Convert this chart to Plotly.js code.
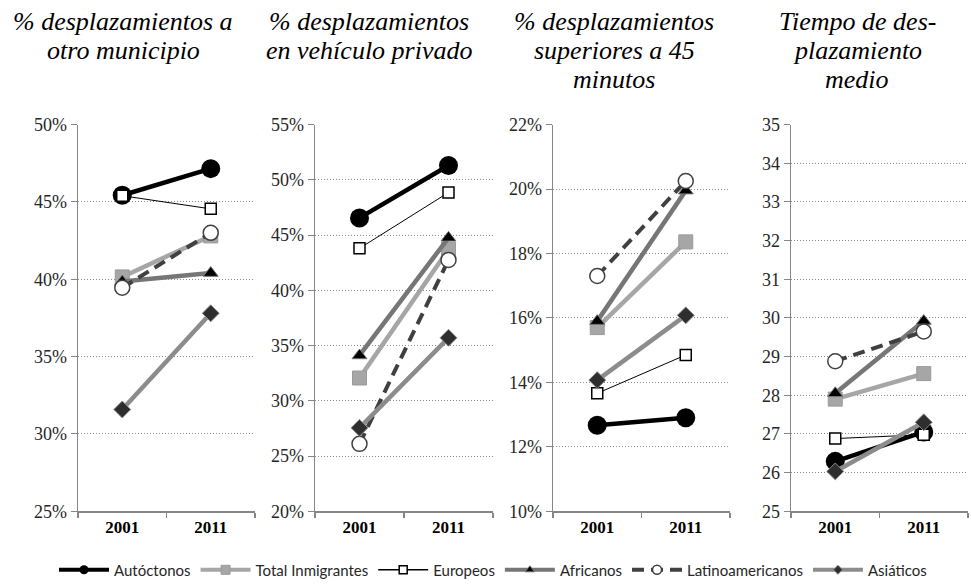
<!DOCTYPE html>
<html>
<head>
<meta charset="utf-8">
<script src="https://cdn.plot.ly/plotly-3.0.1.min.js"></script>
<style>
  html, body { margin: 0; padding: 0; background: #fff; }
  #chart { width: 971px; height: 587px; }
</style>
</head>
<body>
<div id="chart"></div>
<script>
// Categories
const years = ['2001', '2011'];

// Panel titles (one array of lines per panel)
const panelTitles = [
  ['% desplazamientos a', 'otro municipio'],
  ['% desplazamientos', 'en vehículo privado'],
  ['% desplazamientos', 'superiores a 45', 'minutos'],
  ['Tiempo de des-', 'plazamiento', 'medio']
];

// Series names
const seriesNames = ['Autóctonos', 'Total Inmigrantes', 'Europeos', 'Africanos', 'Latinoamericanos', 'Asiáticos'];

// Values per series, one [2001, 2011] pair per panel
const autoctonos       = [[45.43, 47.15], [46.55, 51.3],  [12.67, 12.9],  [26.29, 27.05]];
const totalInmigrantes = [[40.15, 42.8],  [32.06, 43.7],  [15.7, 18.36],  [27.9, 28.56]];
const europeos         = [[45.4, 44.55],  [43.8, 48.85],  [13.66, 14.85], [26.88, 26.98]];
const africanos        = [[39.85, 40.4],  [34.1, 44.75],  [15.9, 19.95],  [28.05, 29.92]];
const latinoamericanos = [[39.45, 43.0],  [26.1, 42.75],  [17.3, 20.25],  [28.88, 29.65]];
const asiaticos        = [[31.58, 37.8],  [27.55, 35.7],  [14.07, 16.08], [26.03, 27.3]];

// Y axis ranges / steps / suffixes per panel
const yRanges   = [[25, 50], [20, 55], [10, 22], [25, 35]];
const yDticks   = [5, 5, 2, 1];
const ySuffixes = ['%', '%', '%', ''];

const allSeries = [autoctonos, totalInmigrantes, europeos, africanos, latinoamericanos, asiaticos];

const styles = [
  { line: { color: '#000000', width: 4.5 }, marker: { symbol: 'circle', size: 19, color: '#000000', line: { color: '#000000', width: 0 } } },
  { line: { color: '#a6a6a6', width: 4.5 }, marker: { symbol: 'square', size: 14, color: '#a6a6a6', line: { color: '#9a9a9a', width: 1 } } },
  { line: { color: '#000000', width: 1 },   marker: { symbol: 'square', size: 11, color: '#ffffff', line: { color: '#000000', width: 1.5 } } },
  { line: { color: '#767676', width: 4.5 }, marker: { symbol: 'triangle-up', size: 13, color: '#000000', line: { color: '#767676', width: 1 } } },
  { line: { color: '#404040', width: 4, dash: '12px,7px' }, marker: { symbol: 'circle', size: 15, color: '#ffffff', line: { color: '#404040', width: 1.5 } } },
  { line: { color: '#8c8c8c', width: 4.5 }, marker: { symbol: 'diamond', size: 13, color: '#2e2e2e', line: { color: '#8c8c8c', width: 1 } } }
];
// Smaller markers for legend entries
const legendMarkerSizes = [9, 9, 8, 8, 9, 7];
const legendLineWidths = [4, 4, 1.5, 4, 4, 4];

const W = 971, H = 587;
const xLeft  = [78, 315, 553, 791];
const xRight = [255, 493, 730, 968];
const yTop = 125, yBottom = 513;
const titleCenters = [123, 369, 614, 857];
const titleLineY = [22, 51, 80];

const traces = [];
for (let p = 0; p < 4; p++) {
  const sfx = p === 0 ? '' : String(p + 1);
  for (let s = 0; s < allSeries.length; s++) {
    traces.push({
      type: 'scatter',
      mode: 'lines+markers',
      x: years,
      y: allSeries[s][p],
      name: seriesNames[s],
      legendgroup: seriesNames[s],
      showlegend: false,
      xaxis: 'x' + sfx,
      yaxis: 'y' + sfx,
      line: styles[s].line,
      marker: styles[s].marker,
      cliponaxis: false,
      hoverinfo: 'skip'
    });
  }
}
// Legend-only entries (no data), with small legend symbols
for (let s = 0; s < seriesNames.length; s++) {
  traces.push({
    type: 'scatter',
    mode: 'lines+markers',
    x: [null], y: [null],
    name: seriesNames[s],
    legendgroup: seriesNames[s],
    showlegend: true,
    line: Object.assign({}, styles[s].line, { width: legendLineWidths[s] }),
    marker: Object.assign({}, styles[s].marker, { size: legendMarkerSizes[s] }),
    hoverinfo: 'skip'
  });
}

const layout = {
  width: W, height: H,
  margin: { l: 0, r: 0, t: 0, b: 0 },
  paper_bgcolor: '#ffffff',
  plot_bgcolor: '#ffffff',
  font: { family: 'Liberation Serif', size: 18, color: '#262626' },
  showlegend: true,
  legend: {
    orientation: 'h',
    x: 493 / W, xanchor: 'center',
    y: 1 - 572 / H, yanchor: 'middle',
    font: { family: 'Lato', size: 15, color: '#262626' },
    itemwidth: 50,
    tracegroupgap: 0
  },
  annotations: []
};

for (let p = 0; p < 4; p++) {
  const sfx = p === 0 ? '' : String(p + 1);
  layout['xaxis' + sfx] = {
    domain: [xLeft[p] / W, xRight[p] / W],
    anchor: 'y' + sfx,
    type: 'category',
    range: [-0.5, 1.5],
    showline: true, linecolor: '#868686', linewidth: 1.5,
    ticks: 'outside', tickson: 'boundaries', ticklen: 5, tickcolor: '#868686', tickwidth: 1.5,
    showgrid: false, zeroline: false,
    tickfont: { size: 17, color: '#000000', weight: 'bold' },
    fixedrange: true
  };
  layout['yaxis' + sfx] = {
    domain: [1 - yBottom / H, 1 - yTop / H],
    anchor: 'x' + sfx,
    range: yRanges[p],
    dtick: yDticks[p],
    tick0: yRanges[p][0],
    ticksuffix: ySuffixes[p],
    showline: true, linecolor: '#868686', linewidth: 1.5,
    ticks: 'outside', ticklen: 6, tickcolor: '#868686', tickwidth: 1,
    showgrid: true, gridcolor: '#8a8a8a', gridwidth: 1, griddash: '1px,2px',
    zeroline: false,
    fixedrange: true
  };
  panelTitles[p].forEach((line, i) => {
    layout.annotations.push({
      xref: 'paper', yref: 'paper',
      x: titleCenters[p] / W, xanchor: 'center',
      y: 1 - titleLineY[i] / H, yanchor: 'middle',
      text: '<i>' + line + '</i>',
      showarrow: false,
      font: { size: 26, color: '#000000' }
    });
  });
}

Plotly.newPlot('chart', traces, layout, { displayModeBar: false, staticPlot: true });
</script>
</body>
</html>
